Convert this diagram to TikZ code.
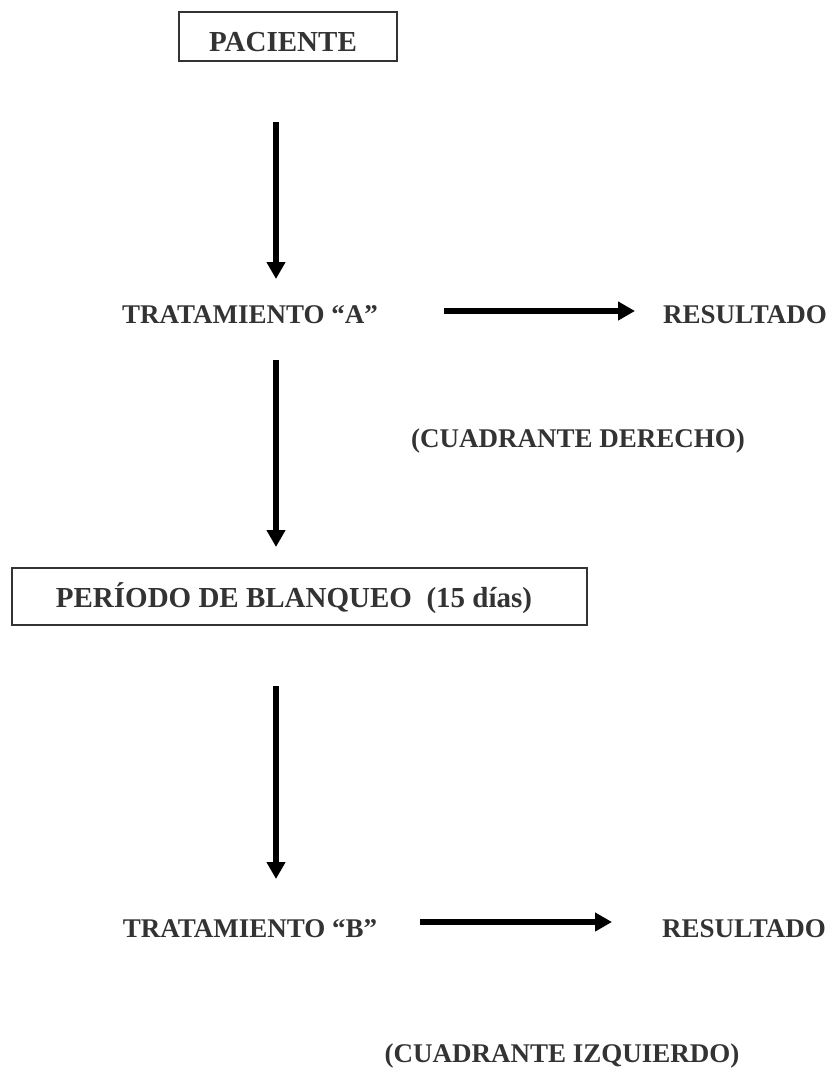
\documentclass[tikz,border=0pt]{standalone}
\usepackage{fontspec}
\setmainfont{Liberation Serif}
\usetikzlibrary{arrows.meta}
\definecolor{ink}{HTML}{333333}
\tikzset{
  lbl/.style={inner sep=0pt, anchor=base, text=ink, font=\bfseries\fontsize{27}{32}\selectfont},
  biglbl/.style={lbl, font=\bfseries\fontsize{29}{34}\selectfont},
  frame/.style={draw=ink, line width=1.8pt, inner sep=0pt},
  arr/.style={line width=6pt, -{Triangle[width=18pt,length=17pt]}, black}
}
\begin{document}
\begin{tikzpicture}[x=1pt,y=-1pt]
\useasboundingbox (0,0) rectangle (833,1068);
% boxes
\node[frame, minimum width=218pt, minimum height=49pt] (pacbox) at (288,36.5) {};
\node[frame, minimum width=575pt, minimum height=57pt] (perbox) at (299.5,596.5) {};
% texts
\node[biglbl] (pac) at (283,51) {PACIENTE};
\node[biglbl] (per) at (294,607) {PERÍODO DE BLANQUEO\ \ (15 días)};
\node[lbl] (ta) at (250,323) {TRATAMIENTO “A”};
\node[lbl] (ra) at (745,323) {RESULTADO};
\node[lbl] (cd) at (578,447) {(CUADRANTE DERECHO)};
\node[lbl] (tb) at (250,937) {TRATAMIENTO “B”};
\node[lbl] (rb) at (744,937) {RESULTADO};
\node[lbl] (ci) at (562,1062) {(CUADRANTE IZQUIERDO)};
% arrow ends
\coordinate (a1s) at (276,122); \coordinate (a1e) at (276,279);
\coordinate (a2s) at (276,360); \coordinate (a2e) at (276,547);
\coordinate (a3s) at (276,686); \coordinate (a3e) at (276,879);
\coordinate (h1s) at (444,311); \coordinate (h1e) at (635,311);
\coordinate (h2s) at (420,922); \coordinate (h2e) at (612,922);
\draw[arr] (a1s) -- (a1e);
\draw[arr] (a2s) -- (a2e);
\draw[arr] (a3s) -- (a3e);
\draw[arr] (h1s) -- (h1e);
\draw[arr] (h2s) -- (h2e);
\end{tikzpicture}
\end{document}
